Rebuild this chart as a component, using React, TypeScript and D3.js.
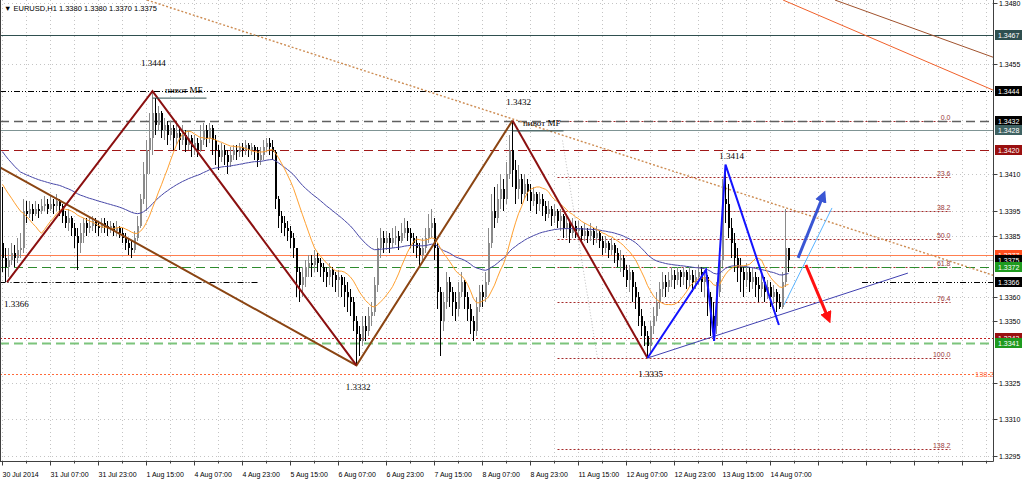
import React from "react";
import * as d3 from "d3";

// ---- data (prices in pips above basePrice) ----
const basePrice = 1.33;
const pip = 0.0001;
const firstOpenPip = 82;

const closePips = [
  76, 72, 75, 78, 76, 79, 80, 95, 94, 96,
  94, 96, 95, 97, 98, 96, 98, 97, 99, 97,
  93, 90, 92, 88, 85, 82, 86, 90, 88, 89,
  91, 89, 88, 90, 89, 88, 89, 87, 88, 86,
  84, 82, 80, 79, 84, 89, 100, 110, 120, 125,
  135, 130, 135, 128, 130, 126, 129, 125, 127, 124,
  126, 122, 125, 121, 123, 120, 124, 128, 125, 129,
  124, 120, 117, 120, 118, 115, 118, 120, 119, 121,
  120, 122, 120, 121, 120, 116, 118, 121, 123, 121,
  119, 100, 93, 90, 88, 87, 84, 80, 70, 65,
  68, 72, 74, 73, 76, 74, 72, 70, 68, 71,
  69, 67, 68, 65, 62, 60, 58, 50, 45, 42,
  48, 46, 52, 54, 65, 80, 84, 82, 84, 82,
  84, 85, 83, 86, 88, 86, 84, 82, 80, 77,
  80, 84, 88, 90, 80, 62, 50, 58, 66, 62,
  58, 55, 62, 66, 60, 55, 50, 46, 56, 62,
  60, 66, 82, 95, 92, 100, 104, 100, 110, 120,
  112, 104, 108, 102, 106, 103, 99, 102, 98, 100,
  97, 94, 96, 93, 95, 91, 93, 88, 90, 86,
  89, 87, 88, 85, 87, 85, 87, 84, 86, 83,
  80, 82, 79, 81, 78, 75, 76, 71, 67, 70,
  64, 60, 52, 48, 44, 40, 48, 52, 58, 63,
  66, 64, 67, 69, 67, 70, 68, 70, 67, 69,
  66, 68, 70, 66, 68, 60, 52, 48, 62, 75,
  100, 98, 88, 82, 76, 72, 70, 67, 70, 66,
  68, 65, 63, 66, 62, 64, 60, 62, 58, 56,
  66, 80, 75,
];
const highPips = [
  105, 80, 80, 82, 81, 84, 86, 100, 99, 99,
  98, 99, 98, 100, 101, 100, 101, 100, 102, 100,
  98, 95, 96, 93, 90, 88, 90, 92, 92, 92,
  93, 92, 91, 92, 92, 91, 91, 90, 91, 89,
  88, 86, 84, 83, 87, 93, 102, 115, 124, 135,
  144, 141, 138, 136, 133, 132, 132, 130, 131, 129,
  130, 128, 128, 126, 126, 125, 130, 131, 130, 131,
  130, 126, 122, 123, 122, 120, 121, 122, 122, 123,
  123, 124, 123, 123, 122, 121, 121, 124, 125, 125,
  124, 120, 101, 95, 93, 91, 89, 86, 80, 72,
  72, 75, 77, 77, 79, 78, 76, 74, 72, 74,
  72, 70, 71, 69, 68, 66, 63, 60, 52, 48,
  52, 52, 56, 58, 68, 84, 88, 87, 87, 86,
  88, 89, 87, 90, 92, 91, 88, 86, 85, 82,
  84, 88, 94, 96, 92, 82, 64, 62, 70, 68,
  64, 62, 66, 70, 67, 62, 57, 52, 60, 65,
  65, 70, 88, 102, 105, 106, 110, 108, 115, 126,
  132, 116, 114, 110, 110, 108, 106, 105, 103, 103,
  102, 99, 99, 97, 98, 96, 96, 94, 93, 91,
  92, 91, 91, 89, 90, 88, 90, 88, 89, 87,
  85, 85, 83, 84, 82, 80, 79, 77, 73, 73,
  71, 66, 62, 55, 50, 46, 50, 56, 62, 66,
  70, 69, 70, 72, 71, 72, 71, 72, 71, 72,
  71, 71, 73, 72, 71, 69, 62, 58, 66, 80,
  108, 114, 106, 92, 86, 80, 76, 72, 74, 72,
  72, 70, 68, 69, 68, 67, 66, 65, 63, 61,
  70, 96, 80,
];
const lowPips = [
  70, 66, 68, 73, 72, 74, 76, 78, 90, 92,
  91, 93, 92, 94, 95, 94, 95, 94, 95, 93,
  90, 88, 87, 85, 80, 71, 78, 82, 85, 86,
  87, 86, 85, 86, 86, 85, 86, 85, 85, 84,
  82, 79, 77, 76, 78, 83, 88, 98, 95, 110,
  118, 126, 128, 125, 124, 122, 124, 120, 122, 120,
  122, 119, 120, 117, 118, 117, 119, 122, 121, 123,
  118, 114, 112, 115, 114, 110, 113, 116, 116, 117,
  117, 118, 117, 118, 116, 113, 114, 116, 119, 118,
  116, 96, 88, 86, 85, 83, 80, 76, 60, 58,
  60, 64, 68, 68, 70, 70, 68, 66, 64, 65,
  64, 62, 60, 60, 56, 54, 52, 46, 32, 36,
  40, 42, 44, 48, 52, 62, 76, 78, 79, 78,
  80, 81, 79, 82, 84, 83, 80, 78, 76, 72,
  75, 78, 82, 84, 75, 55, 36, 46, 55, 56,
  52, 50, 52, 60, 55, 50, 45, 42, 44, 54,
  56, 58, 65, 80, 88, 90, 96, 95, 98, 108,
  105, 98, 100, 98, 100, 99, 95, 97, 94, 95,
  93, 91, 92, 89, 90, 88, 87, 84, 84, 82,
  84, 84, 84, 82, 83, 82, 83, 81, 82, 80,
  77, 78, 76, 77, 74, 72, 70, 68, 64, 62,
  58, 55, 48, 44, 40, 35, 37, 45, 50, 55,
  60, 60, 62, 64, 63, 65, 64, 65, 63, 64,
  62, 63, 65, 62, 60, 52, 44, 42, 45, 60,
  72, 90, 84, 76, 70, 66, 62, 60, 64, 62,
  63, 60, 58, 60, 58, 59, 56, 57, 54, 55,
  55, 64, 70,
];
// closes of the bars just before the first visible one (moving-average warm-up)
const preClosePips = [100, 101, 103, 102, 104, 103, 108, 112, 114, 115, 113, 117, 115];
const slowMaStartPip = 119.3;

const timeLabels = [
  "30 Jul 2014", "31 Jul 07:00", "31 Jul 23:00", "1 Aug 15:00", "4 Aug 07:00", "4 Aug 23:00",
  "5 Aug 15:00", "6 Aug 07:00", "6 Aug 23:00", "7 Aug 15:00", "8 Aug 07:00", "8 Aug 23:00",
  "11 Aug 15:00", "12 Aug 07:00", "12 Aug 23:00", "13 Aug 15:00", "14 Aug 07:00",
];
const barsPerLabel = 16;
const barsPerGrid = 8;
const priceTicks = [1.348, 1.3455, 1.341, 1.3395, 1.3385, 1.336, 1.335, 1.3325, 1.331, 1.3295];

// horizontal levels
const levelPrices = [1.3467, 1.3444, 1.3432, 1.3428, 1.342, 1.3377, 1.3375, 1.3372, 1.3343, 1.3341, 1.33285];
const dashDotLevel = 1.3366;
const dashDotSpans = [[-1, 85.2], [286.5, 332]];
const markerPrices = [1.3467, 1.3444, 1.3432, 1.3428, 1.342, 1.3377, 1.3375, 1.3372, 1.3366, 1.3343, 1.3341];

// fibonacci retracement
const fibHigh = 1.3432;
const fibLow = 1.3335;
const fibSpan = [185, 316];
const fibLevels = [0, 23.6, 38.2, 50, 61.8, 76.4, 100, 138.2];

// drawn lines [barIndex, price]
const zigzagMaroon: [number, number][] = [[1.5, 1.3366], [50, 1.3444], [118, 1.3332]];
const zigzagMaroon2: [number, number][] = [[170, 1.3432], [215, 1.3335]];
const zigzagBrown: [number, number][] = [[-1, 1.3413], [118, 1.3332], [170, 1.3432]];
const zigzagBlue: [number, number][] = [[215, 1.3335], [234.5, 1.3371], [237.2, 1.3342], [241, 1.3414], [258.8, 1.33485]];
const supportLine: [number, number][] = [[215, 1.3335], [301.8, 1.33697]];
const resistanceDotted: [number, number][] = [[48.2, 1.34812], [331, 1.33685]];
const topOrangeLine: [number, number][] = [[260.2, 1.34812], [331, 1.3444]];
const topBrownLine: [number, number][] = [[277.5, 1.34812], [331, 1.34575]];
const lightBlueLine: [number, number][] = [[260.5, 1.33567], [276.5, 1.33963]];
const arrowUp: [number, number][] = [[265.2, 1.33759], [273.5, 1.34012]];
const arrowDown: [number, number][] = [[267.8, 1.3373], [275.2, 1.33514]];

// text objects [label, barIndex, price]
const priceNotes: [string, number, number][] = [
  ["1.3444", 50.3, 1.34543],
  ["1.3432", 172, 1.34383],
  ["1.3414", 243, 1.34163],
  ["1.3332", 118.5, 1.3322],
  ["1.3335", 216, 1.33273],
  ["1.3366", 4.6, 1.33559],
];
const pivotNotes: [string, number, number, number, number][] = [
  ["пивот МЕ", 54.2, 1.34432, 50, 68],
  ["пивот МF", 173.5, 1.34298, 170, 187],
];
const titleText = "EURUSD,H1  1.3380 1.3380 1.3370 1.3375";

export default function App() {
  const W = 1024;
  const H = 482;
  const right = 993.5;
  const bottom = 461.5;
  const x = d3.scaleLinear().domain([0, 1]).range([2.5, 5.5]);
  const y = d3.scaleLinear().domain([1.3295, 1.348]).range([456, 3]);
  const pp = (p: number) => basePrice + p * pip;
  const cy = (price: number) => Math.round(y(price)) + 0.5;

  const bars = closePips.map((c, i) => ({
    i,
    o: i === 0 ? firstOpenPip : closePips[i - 1],
    c,
    h: highPips[i],
    l: lowPips[i],
  }));

  const all = [...preClosePips, ...closePips];
  const np = preClosePips.length;
  const fast = closePips.map((_, i) => d3.mean(all.slice(i + np - 13, i + np + 1)) as number);
  let e = slowMaStartPip;
  const slow = closePips.map((c, i) => {
    if (i > 0) e = e + ((c - e) * 2) / 56;
    return e;
  });
  const maLine = d3
    .line<number>()
    .x((_, i) => x(i))
    .y((v) => y(pp(v)))
    .curve(d3.curveLinear);
  const seg = d3
    .line<[number, number]>()
    .x((d) => x(d[0]))
    .y((d) => y(d[1]));

  const nGrid = Math.floor((right - 2.5) / 3 / barsPerGrid);
  const gridIdx = d3.range(0, nGrid + 1).map((k) => k * barsPerGrid);

  const levelStyle = [
    { stroke: "#2f4f4f", w: 1, dash: "" },
    { stroke: "#000", w: 1, dash: "6,2,1,2,1,2" },
    { stroke: "#606060", w: 1.6, dash: "9,5" },
    { stroke: "#7f9494", w: 1, dash: "" },
    { stroke: "#a01818", w: 1, dash: "9,5" },
    { stroke: "#ff7f50", w: 1, dash: "" },
    { stroke: "#c8c8c8", w: 1, dash: "" },
    { stroke: "#2e8b2e", w: 1, dash: "9,5" },
    { stroke: "#c02020", w: 1, dash: "2,2" },
    { stroke: "#7cc47c", w: 2, dash: "9,5" },
    { stroke: "#ff6a3a", w: 1, dash: "2,2" },
  ];
  const markerFill: Record<string, string> = {
    "1.3467": "#2f4f4f",
    "1.3444": "#000",
    "1.3432": "#000",
    "1.3428": "#3f6262",
    "1.3420": "#9a1010",
    "1.3377": "#ff4f1e",
    "1.3375": "#000",
    "1.3372": "#1e9a1e",
    "1.3366": "#000",
    "1.3343": "#9a1010",
    "1.3341": "#1e9a1e",
  };
  const sans = "'Liberation Sans', Arial, sans-serif";
  const serif = "'Liberation Serif', 'Times New Roman', serif";

  const fibPrice = (lv: number) => fibHigh - ((fibHigh - fibLow) * lv) / 100;

  return (
    <svg
      width={W}
      height={H}
      style={{ position: "absolute", left: 0, top: 0, background: "#fff" }}
      xmlns="http://www.w3.org/2000/svg"
    >
      <defs>
        <clipPath id="plot">
          <rect x={0} y={0} width={right} height={bottom} />
        </clipPath>
        <marker id="headBlue" viewBox="0 0 10 10" refX="5" refY="5" markerWidth="4" markerHeight="4" orient="auto">
          <path d="M0,0 L10,5 L0,10 Z" fill="#3a56d4" />
        </marker>
        <marker id="headRed" viewBox="0 0 10 10" refX="5" refY="5" markerWidth="4" markerHeight="4" orient="auto">
          <path d="M0,0 L10,5 L0,10 Z" fill="#ff1010" />
        </marker>
      </defs>
      <rect x={0} y={0} width={W} height={H} fill="#fff" />

      <g clipPath="url(#plot)">
        {/* grid */}
        {gridIdx.map((i) => (
          <line key={"gx" + i} x1={x(i)} x2={x(i)} y1={0} y2={bottom} stroke="#c4c4c4" strokeDasharray="1,3" />
        ))}
        {priceTicks.map((t) => (
          <line key={"gy" + t} x1={0} x2={right} y1={cy(t)} y2={cy(t)} stroke="#c4c4c4" strokeDasharray="1,3" />
        ))}

        {/* fibonacci */}
        <line
          x1={x(fibSpan[0]) + 5}
          y1={y(fibHigh) + 20}
          x2={x(fibSpan[0]) + 40}
          y2={y(fibLow)}
          stroke="#bdbdbd"
          strokeDasharray="1,2"
        />
        {fibLevels.map((lv) => (
          <g key={"fib" + lv}>
            <line
              x1={x(fibSpan[0])}
              x2={x(fibSpan[1])}
              y1={cy(fibPrice(lv))}
              y2={cy(fibPrice(lv))}
              stroke="#a52a2a"
              strokeDasharray="2,2"
            />
            <text
              x={x(fibSpan[1])}
              y={cy(fibPrice(lv)) - 2}
              textAnchor="end"
              fontSize={7}
              fontFamily={sans}
              fill="#9a3a3a"
            >
              {lv.toFixed(1)}
            </text>
          </g>
        ))}

        {/* horizontal levels */}
        {levelPrices.map((p, k) => (
          <line
            key={"lv" + k}
            x1={0}
            x2={right}
            y1={cy(p)}
            y2={cy(p)}
            stroke={levelStyle[k].stroke}
            strokeWidth={levelStyle[k].w}
            strokeDasharray={levelStyle[k].dash}
          />
        ))}
        {dashDotSpans.map((s, k) => (
          <line
            key={"dd" + k}
            x1={x(s[0])}
            x2={x(s[1])}
            y1={cy(dashDotLevel)}
            y2={cy(dashDotLevel)}
            stroke="#000"
            strokeDasharray="6,2,1,2,1,2"
          />
        ))}
        <text x={975} y={cy(levelPrices[10]) + 2} fontSize={7.5} fontFamily={sans} fill="#ff6a3a">
          138.2
        </text>

        {/* top-right and resistance lines */}
        <path d={seg(resistanceDotted) || ""} stroke="#cd8c52" strokeWidth={1.4} strokeDasharray="2,2" fill="none" />
        <path d={seg(topOrangeLine) || ""} stroke="#f0602a" strokeWidth={1} fill="none" />
        <path d={seg(topBrownLine) || ""} stroke="#a0522d" strokeWidth={1} fill="none" />

        {/* candles */}
        <g shapeRendering="crispEdges">
          {bars.map((b) => {
            const up = b.c >= b.o;
            const col = up ? "#8a8a8a" : "#000";
            const yt = Math.round(y(pp(Math.max(b.o, b.c))));
            const yb = Math.round(y(pp(Math.min(b.o, b.c))));
            return (
              <g key={"b" + b.i}>
                <line x1={x(b.i)} x2={x(b.i)} y1={y(pp(b.h))} y2={y(pp(b.l))} stroke={col} />
                <rect x={x(b.i) - 0.5} y={yt} width={2} height={Math.max(1, yb - yt)} fill={col} />
              </g>
            );
          })}
        </g>

        {/* moving averages */}
        <path d={maLine(slow) || ""} stroke="#4848a8" strokeWidth={1} fill="none" />
        <path d={maLine(fast) || ""} stroke="#ffa030" strokeWidth={1} fill="none" />

        {/* zigzags */}
        <path d={seg(zigzagBrown) || ""} stroke="#8b4513" strokeWidth={2} fill="none" />
        <path d={seg(zigzagMaroon) || ""} stroke="#8b1010" strokeWidth={2} fill="none" />
        <path d={seg(zigzagMaroon2) || ""} stroke="#8b1010" strokeWidth={2} fill="none" />
        <path d={seg(supportLine) || ""} stroke="#4040b0" strokeWidth={1} fill="none" />
        <path d={seg(zigzagBlue) || ""} stroke="#1414ff" strokeWidth={2} fill="none" />
        <path d={seg(lightBlueLine) || ""} stroke="#5ab4ff" strokeWidth={1} fill="none" />
        <path d={seg(arrowUp) || ""} stroke="#3a56d4" strokeWidth={3} fill="none" markerEnd="url(#headBlue)" />
        <path d={seg(arrowDown) || ""} stroke="#ff1010" strokeWidth={3} fill="none" markerEnd="url(#headRed)" />

        {/* text notes */}
        {priceNotes.map(([t, i, p]) => (
          <text
            key={t}
            x={x(i)}
            y={y(p)}
            textAnchor="middle"
            fontSize={9}
            fontFamily={serif}
            fill="#000"
          >
            {t}
          </text>
        ))}
        {pivotNotes.map(([t, i, p, i0, i1]) => (
          <g key={t}>
            <text x={x(i)} y={y(p)} fontSize={9} fontFamily={serif} fill="#000">
              {t}
            </text>
            <line x1={x(i0)} x2={x(i1)} y1={y(p) + 5} y2={y(p) + 5} stroke="#2f4f4f" />
          </g>
        ))}
      </g>

      {/* title */}
      <text x={4} y={11} fontSize={7.5} fontFamily={sans} fill="#000">
        {"\u25BC " + titleText}
      </text>

      {/* frame */}
      <line x1={0.5} x2={0.5} y1={0} y2={bottom} stroke="#404040" />
      <line x1={right} x2={right} y1={0} y2={bottom} stroke="#404040" />
      <line x1={0} x2={right} y1={bottom} y2={bottom} stroke="#404040" />

      {/* right axis */}
      {priceTicks.map((t) => (
        <g key={"pt" + t}>
          <line x1={right} x2={right + 4} y1={cy(t)} y2={cy(t)} stroke="#404040" />
          <text x={999} y={cy(t) + 2.5} fontSize={7} fontFamily={sans} fill="#000">
            {t.toFixed(4)}
          </text>
        </g>
      ))}
      {markerPrices.map((p) => {
        const k = p.toFixed(4);
        return (
          <g key={"mk" + k}>
            <rect x={995} y={cy(p) - 5.5} width={27} height={10} fill={markerFill[k]} />
            <text x={998} y={cy(p) + 2.5} fontSize={7} fontFamily={sans} fill="#fff">
              {k}
            </text>
          </g>
        );
      })}

      {/* bottom axis */}
      {gridIdx.map((i) => (
        <line
          key={"bt" + i}
          x1={x(i)}
          x2={x(i)}
          y1={bottom}
          y2={bottom + (i % barsPerLabel === 0 ? 4 : 2)}
          stroke="#404040"
        />
      ))}
      {timeLabels.map((t, k) => (
        <text key={t} x={x(k * barsPerLabel)} y={477} fontSize={7} fontFamily={sans} fill="#000">
          {t}
        </text>
      ))}
    </svg>
  );
}
